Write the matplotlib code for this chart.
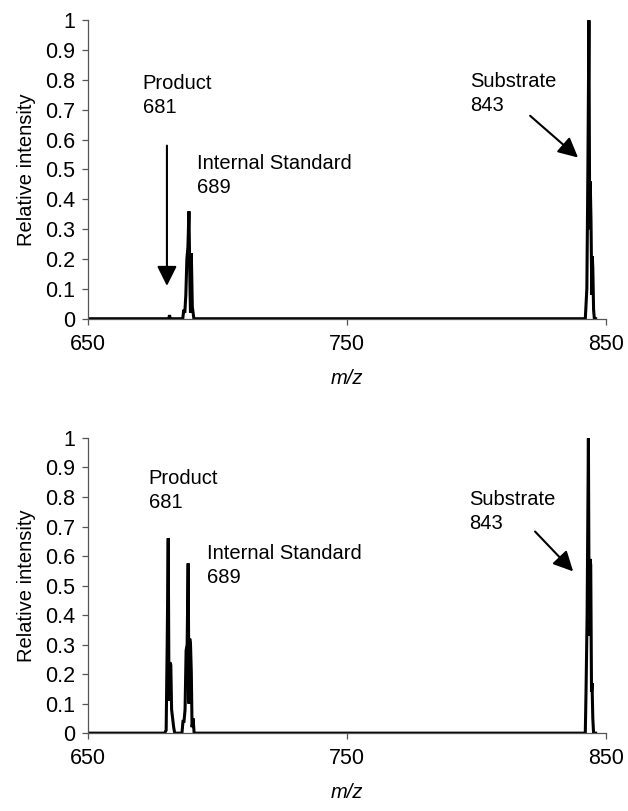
import numpy as np
import matplotlib.pyplot as plt

plt.rcParams['font.family'] = ['Liberation Sans', 'DejaVu Sans']

# top spectrum (before reaction)
mz_top = [650.0, 681.2, 681.5, 681.8, 686.6, 687.0, 687.4, 687.8, 688.2, 688.6, 689.0,
          689.4, 689.6, 689.8, 690.0, 690.3, 690.6, 690.9, 842.0, 842.3, 842.6,
          843.0, 843.4, 843.7, 843.9, 844.2, 844.5, 844.7, 844.9, 845.2, 845.5, 846.0]
int_top = [0.0, 0.0, 0.012, 0.0, 0.0, 0.03, 0.02, 0.08, 0.20, 0.24, 0.36,
           0.10, 0.02, 0.22, 0.18, 0.04, 0.02, 0.0, 0.0, 0.05, 0.10,
           0.50, 1.0, 0.30, 0.46, 0.33, 0.08, 0.21, 0.17, 0.03, 0.0, 0.0]

# bottom spectrum (after reaction)
mz_bot = [650.0, 679.6, 680.2, 680.6, 681.0, 681.3, 681.6, 682.0, 682.3, 682.7, 683.1,
          683.5, 686.3, 686.7, 687.1, 687.5, 687.9, 688.3, 688.7, 689.0, 689.3,
          689.6, 689.9, 690.2, 690.6, 691.0, 842.0, 842.3, 842.7, 843.2, 843.5,
          843.8, 844.1, 844.4, 844.6, 844.9, 845.2, 846.0]
int_bot = [0.0, 0.0, 0.01, 0.30, 0.66, 0.11, 0.24, 0.23, 0.08, 0.05, 0.02,
           0.0, 0.0, 0.04, 0.04, 0.08, 0.28, 0.30, 0.575, 0.10, 0.32,
           0.30, 0.21, 0.02, 0.05, 0.0, 0.0, 0.15, 0.40, 1.0, 0.33,
           0.59, 0.57, 0.14, 0.17, 0.05, 0.0, 0.0]

yticks = [0, 0.1, 0.2, 0.3, 0.4, 0.5, 0.6, 0.7, 0.8, 0.9, 1]
ylabels = ['0', '0.1', '0.2', '0.3', '0.4', '0.5', '0.6', '0.7', '0.8', '0.9', '1']
xticks = [650, 750, 850]

fs = 14.5

fig = plt.figure(figsize=(6.28, 8.11), dpi=100)
ax1 = fig.add_axes([0.140, 0.607, 0.825, 0.368])
ax2 = fig.add_axes([0.140, 0.096, 0.825, 0.364])

arrow = dict(arrowstyle='-|>', color='black', lw=1.5, mutation_scale=30,
             shrinkA=0, shrinkB=0)

for ax, mz, inten in [(ax1, mz_top, int_top), (ax2, mz_bot, int_bot)]:
    ax.plot(mz, inten, color='black', lw=2.2, solid_joinstyle='miter')
    ax.set_xlim(650, 850)
    ax.set_ylim(0, 1)
    ax.set_xticks(xticks)
    ax.set_yticks(yticks)
    ax.set_yticklabels(ylabels)
    ax.tick_params(direction='out', length=4, width=0.9, color='#555555',
                   labelsize=15.5, pad=5)
    ax.tick_params(axis='x', pad=7)
    for s in ['top', 'right']:
        ax.spines[s].set_visible(False)
    for s in ['left', 'bottom']:
        ax.spines[s].set_color('#555555')
        ax.spines[s].set_linewidth(0.9)
    ax.set_ylabel('Relative intensity', fontsize=fs, labelpad=7)
    ax.set_xlabel('m/z', fontsize=fs, style='italic', labelpad=10)

# top annotations
ax1.text(671.2, 0.689, 'Product\n681', fontsize=fs, va='baseline', linespacing=1.35)
ax1.text(692, 0.421, 'Internal Standard\n689', fontsize=fs, va='baseline', linespacing=1.35)
ax1.text(797.5, 0.696, 'Substrate\n843', fontsize=fs, va='baseline', linespacing=1.35)
ax1.annotate('', xy=(680.5, 0.11), xytext=(680.5, 0.58), arrowprops=arrow)
ax1.annotate('', xy=(839.2, 0.54), xytext=(820.7, 0.68), arrowprops=arrow)

# bottom annotations
ax2.text(673.5, 0.761, 'Product\n681', fontsize=fs, va='baseline', linespacing=1.35)
ax2.text(696, 0.509, 'Internal Standard\n689', fontsize=fs, va='baseline', linespacing=1.35)
ax2.text(797, 0.69, 'Substrate\n843', fontsize=fs, va='baseline', linespacing=1.35)
ax2.annotate('', xy=(837.3, 0.548), xytext=(822.6, 0.683), arrowprops=arrow)

fig.savefig('out.png', dpi=100)
